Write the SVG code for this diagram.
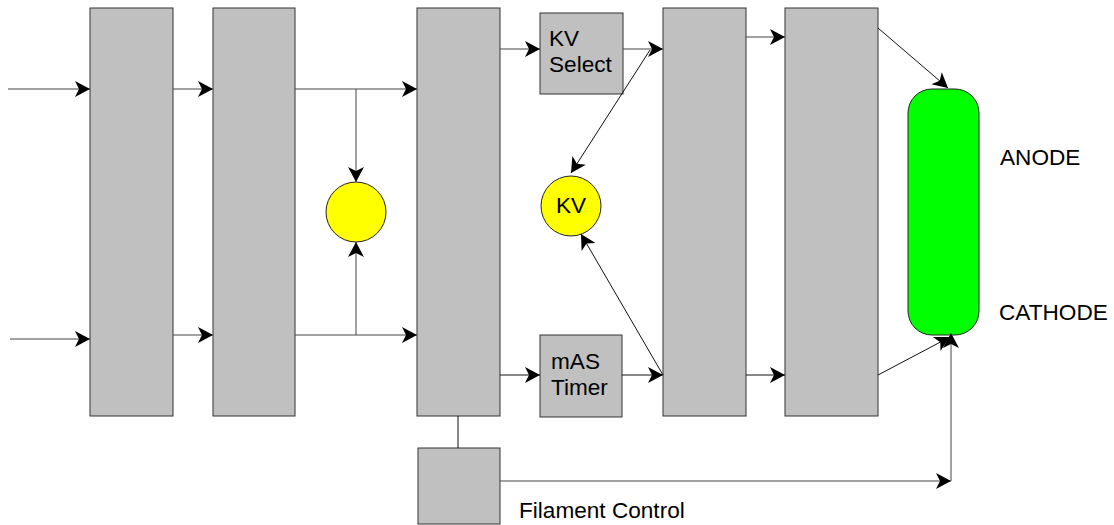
<svg xmlns="http://www.w3.org/2000/svg" width="1114" height="525" viewBox="0 0 1114 525">
<style>
.blk{fill:#c0c0c0;stroke:#333;stroke-width:1}
.yc{fill:#ffff00;stroke:#222;stroke-width:1}
.an{fill:#00ff00;stroke:#222;stroke-width:1}
.c{fill:none;stroke:#444;stroke-width:1}
.d{fill:none;stroke:#111;stroke-width:1}
.t{font-family:"Liberation Sans",Arial,sans-serif;font-size:22.6px;fill:#000}
</style>
<defs>
<marker id="ah" markerUnits="userSpaceOnUse" markerWidth="16" markerHeight="16" refX="15" refY="8" orient="auto" overflow="visible">
<path d="M0,0 L15,8 L0,16 L4,8 Z" fill="#000"/>
</marker>
</defs>
<g id="block1"><rect class="blk" x="90" y="8" width="83" height="408"/></g>
<g id="block2"><rect class="blk" x="213" y="8" width="82" height="408"/></g>
<g id="sum"><circle class="yc" cx="356" cy="212" r="30"/></g>
<g id="block3"><rect class="blk" x="417" y="8" width="83" height="408"/></g>
<g id="kvselect"><rect class="blk" x="540" y="13" width="83" height="81"/>
<text class="t" x="549" y="46">KV</text><text class="t" x="549" y="72">Select</text></g>
<g id="kv"><circle class="yc" cx="571" cy="206" r="30"/><text class="t" x="571" y="213" text-anchor="middle">KV</text></g>
<g id="mas"><rect class="blk" x="540" y="335" width="82" height="82"/>
<text class="t" x="551" y="369">mAS</text><text class="t" x="551" y="395">Timer</text></g>
<g id="filament"><rect class="blk" x="418" y="448" width="82" height="76"/><text class="t" x="519" y="518">Filament Control</text></g>
<g id="block4"><rect class="blk" x="663" y="8" width="83" height="408"/></g>
<g id="block5"><rect class="blk" x="785" y="8" width="93" height="408"/></g>
<g id="tube"><rect class="an" x="908" y="89" width="71" height="246" rx="24" ry="24"/>
<text class="t" x="1000" y="165">ANODE</text><text class="t" x="999" y="320">CATHODE</text></g>
<g id="connectors">
<line class="c" x1="8" y1="89" x2="90" y2="89" marker-end="url(#ah)"/>
<line class="c" x1="173" y1="89" x2="213" y2="89" marker-end="url(#ah)"/>
<line class="c" x1="295" y1="89" x2="417" y2="89" marker-end="url(#ah)"/>
<line class="c" x1="356" y1="89" x2="356" y2="182" marker-end="url(#ah)"/>
<line class="c" x1="10" y1="339" x2="90" y2="339" marker-end="url(#ah)"/>
<line class="c" x1="173" y1="335" x2="213" y2="335" marker-end="url(#ah)"/>
<line class="c" x1="295" y1="335" x2="417" y2="335" marker-end="url(#ah)"/>
<line class="c" x1="356" y1="335" x2="356" y2="242" marker-end="url(#ah)"/>
<line class="c" x1="500" y1="49" x2="540" y2="49" marker-end="url(#ah)"/>
<line class="c" x1="623" y1="49" x2="663" y2="49" marker-end="url(#ah)"/>
<line class="d" x1="650" y1="50" x2="571" y2="173" marker-end="url(#ah)"/>
<line class="d" x1="500" y1="375" x2="540" y2="375" marker-end="url(#ah)"/>
<line class="d" x1="622" y1="375" x2="663" y2="375" marker-end="url(#ah)"/>
<line class="d" x1="663" y1="375" x2="581" y2="234" marker-end="url(#ah)"/>
<line class="c" x1="746" y1="37" x2="785" y2="37" marker-end="url(#ah)"/>
<line class="d" x1="746" y1="375" x2="785" y2="375" marker-end="url(#ah)"/>
<line class="d" x1="878" y1="28" x2="948" y2="88" marker-end="url(#ah)"/>
<line class="d" x1="878" y1="375" x2="950" y2="337" marker-end="url(#ah)"/>
<line class="d" x1="458" y1="416" x2="458" y2="448"/>
<line class="c" x1="500" y1="481" x2="951" y2="481" marker-end="url(#ah)"/>
<line class="c" x1="951" y1="481" x2="951" y2="333" marker-end="url(#ah)"/>
</g>
</svg>
